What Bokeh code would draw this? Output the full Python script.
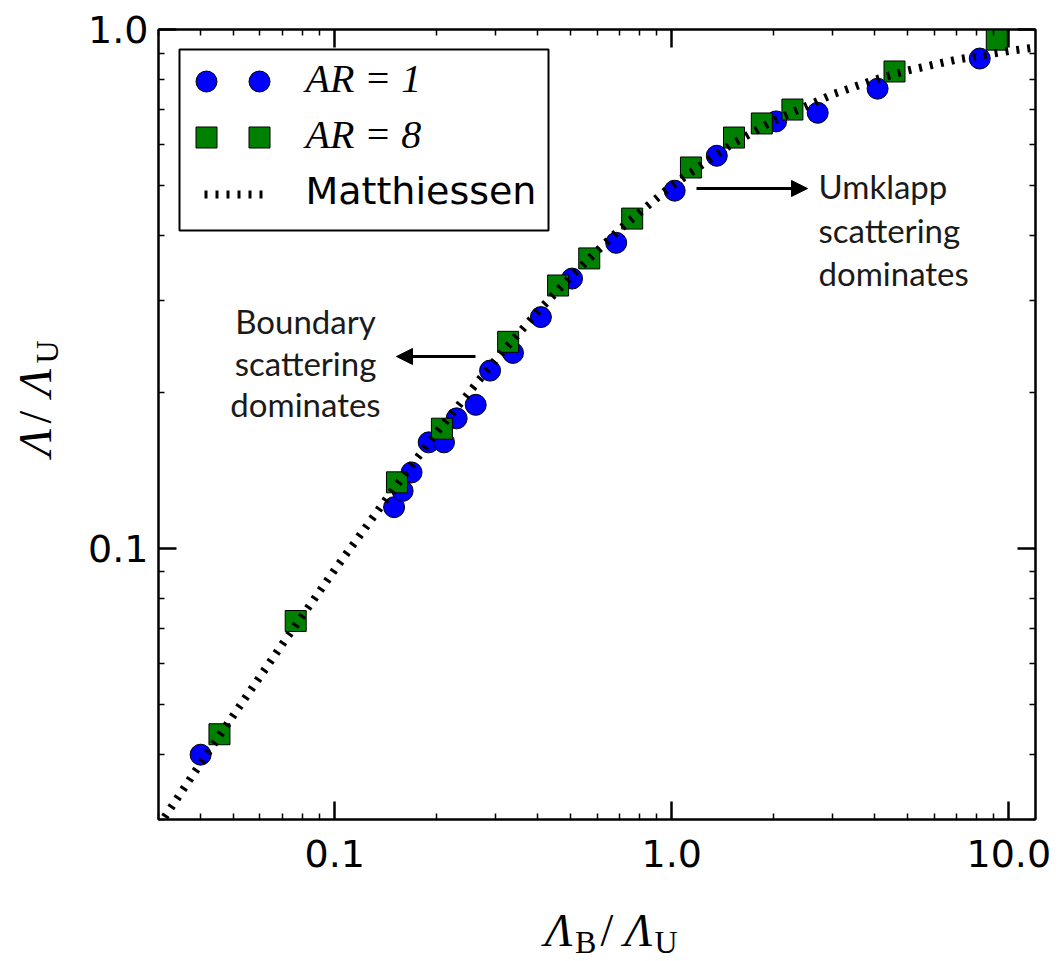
import math
from bokeh.plotting import figure
from bokeh.layouts import row, column
from bokeh.models import LogAxis, FixedTicker, Label, Arrow, NormalHead, BoxAnnotation, Range1d
from bokeh.embed import file_html
from bokeh.resources import INLINE

# ---------------- data ----------------
ar1_x = [0.040, 0.150, 0.159, 0.169, 0.190, 0.211, 0.230, 0.262, 0.289, 0.338,
         0.409, 0.506, 0.684, 1.02, 1.36, 2.04, 2.71, 4.08, 8.20]
ar1_y = [0.040, 0.120, 0.129, 0.140, 0.160, 0.160, 0.178, 0.189, 0.220, 0.238,
         0.279, 0.331, 0.388, 0.489, 0.571, 0.665, 0.691, 0.769, 0.879]

ar8_x = [0.0455, 0.0766, 0.153, 0.208, 0.327, 0.460, 0.569, 0.763, 1.14, 1.53,
         1.85, 2.28, 4.58, 9.21]
ar8_y = [0.0438, 0.0724, 0.134, 0.170, 0.250, 0.321, 0.362, 0.432, 0.542, 0.619,
         0.659, 0.701, 0.830, 0.956]

matth_x = [0.03, 0.04, 0.05, 0.07, 0.1, 0.15, 0.2, 0.3, 0.4, 0.5, 0.7, 1.0,
           1.5, 2.0, 3.0, 4.0, 5.0, 7.0, 10.0, 12.0]
matth_y = [0.0291, 0.0385, 0.0476, 0.0654, 0.0909, 0.1304, 0.1667, 0.2308,
           0.2857, 0.3333, 0.4118, 0.5, 0.6, 0.6667, 0.75, 0.8, 0.8333, 0.875,
           0.9091, 0.9231]

x_major = [0.1, 1.0, 10.0]
x_minor = [0.03, 0.04, 0.05, 0.06, 0.07, 0.08, 0.09,
           0.2, 0.3, 0.4, 0.5, 0.6, 0.7, 0.8, 0.9,
           2, 3, 4, 5, 6, 7, 8, 9]
y_major = [0.1, 1.0]
y_minor = [0.03, 0.04, 0.05, 0.06, 0.07, 0.08, 0.09,
           0.2, 0.3, 0.4, 0.5, 0.6, 0.7, 0.8, 0.9]
x_labels = {0.1: "0.1", 1: "1.0", 10: "10.0"}
y_labels = {0.1: "0.1", 1: "1.0"}

legend_labels = ["AR = 1", "AR = 8", "Matthiessen"]
left_note = ["Boundary", "scattering", "dominates"]
right_note = ["Umklapp", "scattering", "dominates"]

# ---------------- layout constants (page pixels) ----------------
YW = 64            # width of the strip holding the y title
XH = 72            # height of the strip holding the x title
PW, PH = 1056 - YW, 889  # main plot canvas
X0, X1 = 0.03, 12.0
Y0, Y1 = 0.03, 1.0
FL, FT, FW, FH = 158.0, 29.0, 877.0, 790.0   # frame position on the page
BL = 15            # label anchor -> visual baseline correction
XSHIFT = 36        # observed horizontal offset of the x-title strip


def px_x(px):
    lx0, lx1 = math.log10(X0), math.log10(X1)
    return 10 ** (lx0 + (px - FL) / FW * (lx1 - lx0))


def py_y(py):
    ly0, ly1 = math.log10(Y0), math.log10(Y1)
    return 10 ** (ly1 - (py - FT) / FH * (ly1 - ly0))


p = figure(width=PW, height=PH, x_axis_type="log", y_axis_type="log",
           x_range=Range1d(X0, X1), y_range=Range1d(Y0, Y1),
           output_backend="svg", toolbar_location=None,
           min_border_left=int(FL - YW), min_border_right=21, min_border_top=int(FT),
           min_border_bottom=70)
p.xgrid.visible = False
p.ygrid.visible = False
p.outline_line_color = "black"
p.outline_line_width = 2
p.background_fill_color = "white"
p.border_fill_color = "white"

xt = FixedTicker(ticks=x_major, minor_ticks=x_minor)
yt = FixedTicker(ticks=y_major, minor_ticks=y_minor)


def style(ax, labels):
    ax.axis_line_color = "black"
    ax.axis_line_width = 2
    ax.major_tick_line_width = 2.5
    ax.major_tick_line_color = "black"
    ax.minor_tick_line_width = 1.5
    ax.minor_tick_line_color = "black"
    ax.major_tick_in = 18
    ax.major_tick_out = 0
    ax.minor_tick_in = 6
    ax.minor_tick_out = 0
    if labels is None:
        ax.major_label_text_font_size = "1px"
        ax.major_label_text_alpha = 0
        ax.major_label_standoff = 0
    else:
        ax.major_label_overrides = labels
        ax.major_label_text_font = "DejaVu Sans"
        ax.major_label_text_font_size = "38px"
        ax.major_label_text_color = "black"


p.xaxis.ticker = xt
p.yaxis.ticker = yt
style(p.xaxis[0], x_labels)
style(p.yaxis[0], y_labels)
p.xaxis[0].major_label_standoff = 20
p.yaxis[0].major_label_standoff = 10

top = LogAxis(ticker=xt)
style(top, None)
p.add_layout(top, "above")
right = LogAxis(ticker=yt)
style(right, None)
p.add_layout(right, "right")

# ---------------- data marks ----------------
p.scatter(ar1_x, ar1_y, marker="circle", size=21, fill_color="#0000ff",
          line_color="black", line_width=1)
p.scatter(ar8_x, ar8_y, marker="square", size=21, fill_color="#008000",
          line_color="black", line_width=1)
p.line(matth_x, matth_y, line_color="black", line_width=8, line_dash="3 8")

# ---------------- legend (manual, matplotlib style with two markers) ----------------
box = BoxAnnotation(left=px_x(179), right=px_x(548), top=py_y(49), bottom=py_y(230),
                    fill_color="white", fill_alpha=1.0, line_color="black",
                    line_alpha=1.0, line_width=2, level="underlay")
p.add_layout(box)
p.scatter([px_x(206), px_x(259)], [py_y(81)] * 2, marker="circle", size=21,
          fill_color="#0000ff", line_color="black", line_width=1)
p.scatter([px_x(206), px_x(259)], [py_y(137)] * 2, marker="square", size=21,
          fill_color="#008000", line_color="black", line_width=1)
p.line([px_x(204), px_x(262)], [py_y(194)] * 2, line_color="black",
       line_width=8, line_dash="3 8")
for txt, base, font, style_, fs in [(legend_labels[0], 93, "Liberation Serif", "italic", 40),
                                    (legend_labels[1], 149, "Liberation Serif", "italic", 40),
                                    (legend_labels[2], 205, "DejaVu Sans", "normal", 38)]:
    p.add_layout(Label(x=px_x(305), y=py_y(base - BL), text=txt, text_font=font,
                       text_font_style=style_, text_font_size=f"{fs}px",
                       text_color="black", text_align="left",
                       text_baseline="alphabetic"))

# ---------------- annotations ----------------
for txt, base in zip(left_note, [335, 377, 418]):
    p.add_layout(Label(x=px_x(305), y=py_y(base - BL), text=txt, text_font="Lato",
                       text_font_size="33px", text_color="#1a1a1a",
                       text_align="center", text_baseline="alphabetic"))
for txt, base in zip(right_note, [200, 244, 287]):
    p.add_layout(Label(x=px_x(818), y=py_y(base - BL), text=txt, text_font="Lato",
                       text_font_size="33px", text_color="#1a1a1a",
                       text_align="left", text_baseline="alphabetic"))

p.add_layout(Arrow(end=NormalHead(size=16, fill_color="black", line_color="black"),
                   x_start=px_x(475), y_start=py_y(356), x_end=px_x(396), y_end=py_y(356),
                   line_color="black", line_width=3))
p.add_layout(Arrow(end=NormalHead(size=16, fill_color="black", line_color="black"),
                   x_start=px_x(696), y_start=py_y(188), x_end=px_x(807), y_end=py_y(188),
                   line_color="black", line_width=3))


# ---------------- axis titles in their own strips ----------------
def strip(w, h):
    f = figure(width=w, height=h, x_range=Range1d(0, w), y_range=Range1d(h, 0),
               output_backend="svg", toolbar_location=None, min_border=0,
               x_axis_location=None, y_axis_location=None)
    f.grid.visible = False
    f.outline_line_color = None
    f.background_fill_color = "white"
    f.border_fill_color = "white"
    return f


xfig = strip(PW, XH)
xlab = [("Λ", 537, 945, 46, "italic"), ("B", 571, 956, 32, "normal"),
        ("/", 600, 945, 46, "normal"), ("Λ", 627, 945, 46, "italic"),
        ("U", 661, 956, 32, "normal")]
for txt, px, py, fs, st in xlab:
    xfig.add_layout(Label(x=px - YW - XSHIFT, y=py - BL - PH, text=txt,
                          text_font="Liberation Serif", text_font_style=st,
                          text_font_size=f"{fs}px", text_color="black",
                          text_align="left", text_baseline="alphabetic"))

yfig = strip(YW, PH + XH)
ylab = [("Λ", 50, 456, 46, "italic"), ("/", 50, 423, 46, "normal"),
        ("Λ", 50, 396, 46, "italic"), ("U", 61, 363, 32, "normal")]
for txt, px, py, fs, st in ylab:
    yfig.add_layout(Label(x=px - BL, y=py, text=txt, text_font="Liberation Serif",
                          text_font_style=st, text_font_size=f"{fs}px", text_color="black",
                          text_align="left", text_baseline="alphabetic",
                          angle=math.pi / 2))

layout = row(yfig, column(p, xfig, spacing=0), spacing=0)

open("out.html", "w").write(file_html(layout, INLINE))
